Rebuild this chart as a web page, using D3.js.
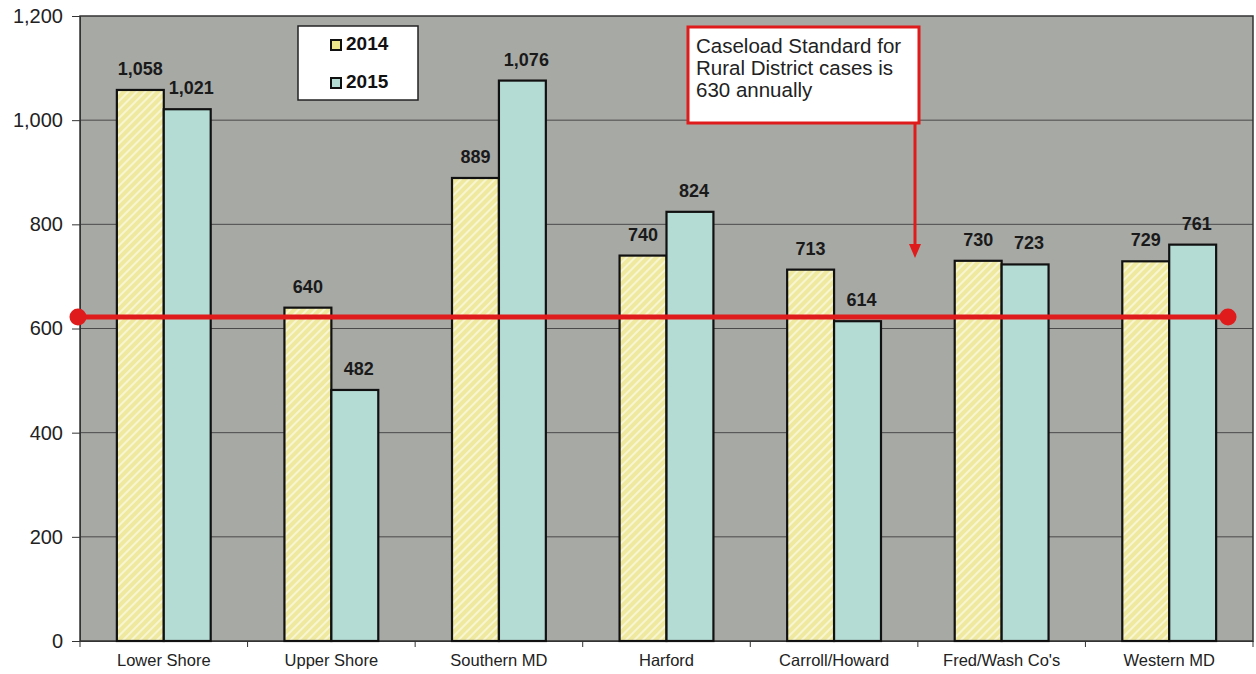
<!DOCTYPE html>
<html>
<head>
<meta charset="utf-8">
<script src="https://cdn.jsdelivr.net/npm/d3@7"></script>
<style>
  body { margin: 0; background: #fff; }
  svg { display: block; font-family: Arial, "Liberation Sans", sans-serif; }
  .tick text { fill: #222; }
  .val { font-weight: bold; font-size: 18px; fill: #1a1a1a; }
</style>
</head>
<body>
<div id="chart"></div>
<script>
// data
var categories = ["Lower Shore", "Upper Shore", "Southern MD", "Harford", "Carroll/Howard", "Fred/Wash Co's", "Western MD"];
var series = ["2014", "2015"];
var values2014 = [1058, 640, 889, 740, 713, 730, 729];
var values2015 = [1021, 482, 1076, 824, 614, 723, 761];
var yTicks = [0, 200, 400, 600, 800, 1000, 1200];
var standardValue = 622; // where the red line sits on the picture
var noteLines = ["Caseload Standard for", "Rural District cases is", "630 annually"];

var width = 1256, height = 674;
var margin = {top: 16, right: 3, bottom: 33, left: 80};

var svg = d3.select("#chart").append("svg")
    .attr("width", width)
    .attr("height", height);

var defs = svg.append("defs");
var hatch = defs.append("pattern")
    .attr("id", "hatch")
    .attr("patternUnits", "userSpaceOnUse")
    .attr("width", 6).attr("height", 6)
    .attr("patternTransform", "rotate(45)");
hatch.append("rect").attr("width", 6).attr("height", 6).attr("fill", "#efe9a0");
hatch.append("rect").attr("width", 2).attr("height", 6).attr("fill", "#f8f5d2");

var x = d3.scaleBand()
    .domain(categories)
    .range([margin.left, width - margin.right])
    .paddingInner(0.44)
    .paddingOuter(0.22);

var xs = d3.scaleBand().domain(series).range([0, x.bandwidth()]);

var y = d3.scaleLinear()
    .domain([0, 1200])
    .range([height - margin.bottom, margin.top]);

// plot background
svg.append("rect")
    .attr("x", margin.left)
    .attr("y", margin.top)
    .attr("width", width - margin.left - margin.right)
    .attr("height", y(0) - margin.top)
    .attr("fill", "#a7a9a5");

// gridlines
svg.append("g").selectAll("line")
    .data(yTicks.filter(function (d) { return d > 0 && d < 1200; }))
    .enter().append("line")
    .attr("x1", margin.left).attr("x2", width - margin.right)
    .attr("y1", function (d) { return y(d); })
    .attr("y2", function (d) { return y(d); })
    .attr("stroke", "#4a4a4a")
    .attr("stroke-width", 1);

svg.append("rect")
    .attr("x", margin.left)
    .attr("y", margin.top)
    .attr("width", width - margin.left - margin.right)
    .attr("height", y(0) - margin.top)
    .attr("fill", "none")
    .attr("stroke", "#333")
    .attr("stroke-width", 1.5);

// y axis
var yAxis = svg.append("g")
    .attr("transform", "translate(" + margin.left + ",0)")
    .call(d3.axisLeft(y).tickValues(yTicks).tickFormat(d3.format(",")).tickSize(8).tickPadding(9));
yAxis.select(".domain").attr("stroke", "#333");
yAxis.selectAll(".tick line").attr("stroke", "#333");
yAxis.selectAll(".tick text").style("font-size", "20px");

// x axis with ticks between groups
var xAxis = svg.append("g")
    .attr("transform", "translate(0," + y(0) + ")")
    .call(d3.axisBottom(x).tickSize(0).tickPadding(13));
xAxis.select(".domain").attr("stroke", "#333");
xAxis.selectAll(".tick text").style("font-size", "16.5px");
xAxis.selectAll("line.sep")
    .data(d3.range(categories.length + 1))
    .enter().append("line")
    .attr("class", "sep")
    .attr("x1", function (i) { return margin.left + i * (width - margin.left - margin.right) / categories.length; })
    .attr("x2", function (i) { return margin.left + i * (width - margin.left - margin.right) / categories.length; })
    .attr("y1", 0).attr("y2", 6)
    .attr("stroke", "#333");

// bars
var rows = categories.map(function (c, i) {
    return [
        {cat: c, key: "2014", value: values2014[i]},
        {cat: c, key: "2015", value: values2015[i]}
    ];
});
var fills = {"2014": "url(#hatch)", "2015": "#b4dcd4"};

var groups = svg.append("g").selectAll("g")
    .data(rows)
    .enter().append("g")
    .attr("transform", function (d) { return "translate(" + x(d[0].cat) + ",0)"; });

groups.selectAll("rect")
    .data(function (d) { return d; })
    .enter().append("rect")
    .attr("x", function (d) { return xs(d.key); })
    .attr("y", function (d) { return y(d.value); })
    .attr("width", xs.bandwidth())
    .attr("height", function (d) { return y(0) - y(d.value); })
    .attr("fill", function (d) { return fills[d.key]; })
    .attr("stroke", "#111")
    .attr("stroke-width", 2.2);

groups.selectAll("text")
    .data(function (d) { return d; })
    .enter().append("text")
    .attr("class", "val")
    .attr("x", function (d) { return xs(d.key) + xs.bandwidth() / 2 + (d.key === "2015" ? 4 : 0); })
    .attr("y", function (d) { return y(d.value) - 15; })
    .attr("text-anchor", "middle")
    .text(function (d) { return d3.format(",")(d.value); });

// red standard line
var lineX1 = margin.left - 2, lineX2 = 1228;
svg.append("line")
    .attr("x1", lineX1).attr("x2", lineX2)
    .attr("y1", y(standardValue)).attr("y2", y(standardValue))
    .attr("stroke", "#e01b1b")
    .attr("stroke-width", 5);
svg.selectAll("circle.end")
    .data([lineX1, lineX2])
    .enter().append("circle")
    .attr("class", "end")
    .attr("cx", function (d) { return d; })
    .attr("cy", y(standardValue))
    .attr("r", 8.5)
    .attr("fill", "#e01b1b");

// legend
var legend = svg.append("g").attr("transform", "translate(298,26)");
legend.append("rect")
    .attr("width", 120).attr("height", 74)
    .attr("fill", "#fff").attr("stroke", "#222").attr("stroke-width", 1.5);
series.forEach(function (s, i) {
    var gy = 24 + i * 38;
    legend.append("rect")
        .attr("x", 33).attr("y", gy - 10)
        .attr("width", 10).attr("height", 10)
        .attr("fill", i === 0 ? "#ece78c" : "#b4dcd4")
        .attr("stroke", "#111").attr("stroke-width", 2);
    legend.append("text")
        .attr("x", 48).attr("y", gy)
        .attr("font-size", "19px").attr("font-weight", "bold")
        .attr("fill", "#111")
        .text(s);
});

// annotation box + arrow
var note = svg.append("g").attr("transform", "translate(688,27)");
note.append("rect")
    .attr("width", 231).attr("height", 96)
    .attr("fill", "#fff").attr("stroke", "#e01b1b").attr("stroke-width", 3);
note.selectAll("text")
    .data(noteLines)
    .enter().append("text")
    .attr("x", 8)
    .attr("y", function (d, i) { return 26 + i * 22; })
    .attr("font-size", "20.5px")
    .attr("fill", "#222")
    .text(function (d) { return d; });

var arrowX = 915;
svg.append("line")
    .attr("x1", arrowX).attr("x2", arrowX)
    .attr("y1", 123).attr("y2", 246)
    .attr("stroke", "#e01b1b").attr("stroke-width", 3);
svg.append("path")
    .attr("d", "M" + (arrowX - 6) + ",244 L" + (arrowX + 6) + ",244 L" + arrowX + ",258 Z")
    .attr("fill", "#e01b1b");
</script>
</body>
</html>
